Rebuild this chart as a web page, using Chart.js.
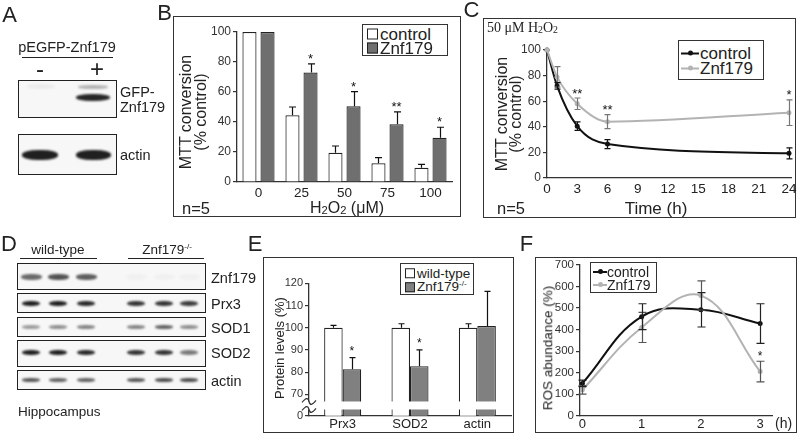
<!DOCTYPE html>
<html>
<head>
<meta charset="utf-8">
<title>Znf179 figure</title>
<script src="https://cdn.jsdelivr.net/npm/chart.js@4.4.1/dist/chart.umd.min.js"></script>
<style>
  body { margin: 0; background: #fff; }
  #fig { position: relative; width: 800px; height: 444px; overflow: hidden;
         font-family: "Liberation Sans", Arial, sans-serif; color: #222; }
  .layer { position: absolute; left: 0; top: 0; width: 800px; height: 444px; z-index: 2; }
  .frame { position: absolute; border: 1.5px solid #333; box-sizing: border-box; }
  .t { position: absolute; white-space: nowrap; line-height: 1; transform: translate(-50%, -50%); z-index: 3; }
  .tl { position: absolute; white-space: nowrap; line-height: 1; transform: translate(0, -50%); z-index: 3; }
  .legend { position: absolute; border: 1.5px solid #333; background: #fff; box-sizing: border-box; z-index: 3; }
  .blot { position: absolute; border: 1.5px solid #222; box-sizing: border-box; background: #f7f7f7; }
  .band { position: absolute; border-radius: 45%; filter: blur(1.2px); z-index: 1; }
  .rule { position: absolute; height: 1px; background: #222; }
  sub { font-size: 70%; vertical-align: -0.12em; }
  sup { font-size: 60%; vertical-align: 0.6em; }
</style>
</head>
<body>
<div id="fig">
  <canvas id="chartB" class="layer" width="800" height="444"></canvas>
  <canvas id="chartC" class="layer" width="800" height="444"></canvas>
  <canvas id="chartE" class="layer" width="800" height="444"></canvas>
  <canvas id="chartF" class="layer" width="800" height="444"></canvas>
</div>
<script>
// B: MTT conversion after 24h of H2O2 (uM)
const doseLabels = ['0', '25', '50', '75', '100'];
const doseControl = [100, 44.5, 19.5, 12.5, 9.5];
const doseControlErr = [0, 5.5, 4.5, 3.7, 2.3];
const doseZnf = [100, 73, 50.5, 38.5, 29.5];
const doseZnfErr = [0, 5.7, 9.7, 8.3, 7];
const doseZnfSig = ['', '*', '*', '**', '*'];

// C: MTT conversion over time at 50 uM H2O2
const timeHours = [0, 1, 3, 6, 24];
const timeControl = [100, 72, 40.5, 26.5, 19.3];
const timeControlErr = [0, 2.5, 3.3, 3.5, 4.3];
const timeZnf = [100, 79, 58, 44, 51];
const timeZnfErr = [0, 8, 4.5, 5.5, 10];
const timeZnfSig = ['', '', '**', '**', '*'];
const timeTicks = [0, 3, 6, 9, 12, 15, 18, 21, 24];

// E: protein levels in hippocampus
const proteinLabels = ['Prx3', 'SOD2', 'actin'];
const levelWT = [100, 100, 100];
const levelWTErr = [1.1, 1.8, 1.8];
const levelKO = [81.3, 82.7, 100.8];
const levelKOErr = [5.2, 7.3, 15.6];
const levelKOSig = ['*', '*', ''];
const levelTickValues = [60.4, 70, 80, 90, 100, 110, 120];
const levelTickLabels = ['0', '70', '80', '90', '100', '110', '120'];

// F: ROS abundance over time
const rosHours = [0, 1, 2, 3];
const rosControl = [150, 460, 492, 428];
const rosControlErr = [15, 60, 80, 92];
const rosZnf = [120, 410, 558, 205];
const rosZnfErr = [20, 70, 68, 48];
const rosZnfSig = ['', '', '', '*'];

const FONT = '"Liberation Sans", Arial, sans-serif';
const GRAY_BAR = '#6f6f6f';
const GRAY_LINE = '#b3b3b3';

Chart.defaults.font.family = FONT;
Chart.defaults.color = '#333';

const fig = document.getElementById('fig');

function el(cls, html, css) {
  const d = document.createElement('div');
  d.className = cls;
  if (html) d.innerHTML = html;
  Object.assign(d.style, css);
  fig.appendChild(d);
  return d;
}
function text(html, x, y, size, extra = {}) {
  return el('t', html, Object.assign({ left: x + 'px', top: y + 'px', fontSize: size + 'px' }, extra));
}
function textL(html, x, y, size, extra = {}) {
  return el('tl', html, Object.assign({ left: x + 'px', top: y + 'px', fontSize: size + 'px' }, extra));
}
function rect(cls, l, t, r, b) {
  return el(cls, '', { left: l + 'px', top: t + 'px', width: (r - l) + 'px', height: (b - t) + 'px' });
}
function band(cx, cy, w, h, o) {
  el('band', '', { left: (cx - w / 2) + 'px', top: (cy - h / 2) + 'px', width: w + 'px', height: h + 'px',
    background: 'rgba(20,20,20,' + o + ')' });
}
const ROT = { transform: 'translate(-50%,-50%) rotate(-90deg)' };

// panel letters
[['A', 9.5, 14.5], ['B', 164.5, 12.5], ['C', 471.5, 10], ['D', 9, 243.5], ['E', 255, 243.5], ['F', 526.5, 243.5]]
  .forEach(([s, x, y]) => text(s, x, y, 22));

// panel frames
rect('frame', 173, 16, 461, 217);
rect('frame', 483, 18, 796, 218);
rect('frame', 263, 257, 514, 433);
rect('frame', 535, 257, 797, 433);

// ---- A: western blot ----
text('pEGFP-Znf179', 67, 47, 14.5);
rect('rule', 22, 57, 113, 58);
text('-', 40, 69, 24);
text('+', 97, 69, 24);
rect('blot', 18, 80, 117, 118);
rect('blot', 18, 134, 117, 175);
band(41, 86, 28, 5, 0.05);
band(93, 87, 30, 4, 0.3);
band(93, 97.5, 34, 7, 0.92);
band(40, 155, 36, 10, 0.95);
band(93, 155, 35, 10, 0.95);
textL('GFP-', 120, 92, 14.5);
textL('Znf179', 120, 107, 14.5);
textL('actin', 120, 155, 14.5);

// ---- D: western blot ----
text('wild-type', 58, 250, 13.5);
rect('rule', 20, 258, 97, 259);
text('Znf179<sup>-/-</sup>', 167, 250, 13.5);
rect('rule', 128, 258, 204, 259);
const laneX = [31, 58, 86, 136, 164, 189];
const blotRows = [
  { name: 'Znf179', top: 263, bottom: 290, y: 277, h: 6, w: 21, o: [0.62, 0.72, 0.68, 0.03, 0.03, 0.03] },
  { name: 'Prx3', top: 293, bottom: 313, y: 303, h: 5, w: 18, o: [0.95, 0.95, 0.9, 0.85, 0.85, 0.82] },
  { name: 'SOD1', top: 317, bottom: 337, y: 327, h: 4, w: 18, o: [0.4, 0.45, 0.5, 0.5, 0.65, 0.45] },
  { name: 'SOD2', top: 340, bottom: 367, y: 352, h: 5, w: 18, o: [0.95, 0.95, 0.9, 0.85, 0.85, 0.55] },
  { name: 'actin', top: 370, bottom: 390, y: 380, h: 4, w: 18, o: [0.7, 0.65, 0.65, 0.7, 0.75, 0.75] },
];
blotRows.forEach(r => {
  rect('blot', 17, r.top, 206, r.bottom);
  laneX.forEach((x, i) => band(x, r.y, r.w, r.h, r.o[i]));
  textL(r.name, 211, r.y + 1, 14.5);
});
textL('Hippocampus', 18, 412, 13.5);

// ---- axis titles and notes ----
text('MTT conversion', 186, 112, 16, ROT);
text('(% control)', 201, 112, 16, ROT);
textL('n=5', 182, 208, 16.5);
text('H<sub>2</sub>O<sub>2</sub> (μM)', 347, 208, 16);

text('MTT conversion', 501.5, 114, 16, ROT);
text('(% control)', 516, 114, 16, ROT);
textL('n=5', 497, 208, 16.5);
text('Time (h)', 656, 208, 17);
textL('50 μM H<sub>2</sub>O<sub>2</sub>', 487, 28, 14, { fontFamily: '"Liberation Serif", "Times New Roman", serif' });

text('Protein levels (%)', 279, 348, 13, ROT);
text('ROS abundance (%)', 548, 348, 13.5, ROT);
textL('(h)', 775, 423, 14);

// ---- legends ----
function legend(l, t, w, h, rows, size) {
  const box = el('legend', '', { left: l + 'px', top: t + 'px', width: w + 'px', height: h + 'px' });
  rows.forEach(r => {
    const row = document.createElement('div');
    Object.assign(row.style, { position: 'absolute', left: '0', top: r.y + 'px', fontSize: size + 'px',
      lineHeight: '1', whiteSpace: 'nowrap', transform: 'translateY(-50%)' });
    let sw;
    if (r.fill) {
      sw = `<span style="position:absolute;left:${r.sx}px;top:50%;width:${r.ss}px;height:${r.ss}px;` +
        `margin-top:-${r.ss / 2}px;box-sizing:border-box;border:1.2px solid #222;background:${r.fill}"></span>`;
    } else {
      sw = `<span style="position:absolute;left:${r.sx}px;top:50%;width:${r.ss}px;height:2px;margin-top:-1px;background:${r.line}"></span>` +
        `<span style="position:absolute;left:${r.sx + r.ss / 2 - 2.5}px;top:50%;width:5px;height:5px;margin-top:-2.5px;border-radius:50%;background:${r.line}"></span>`;
    }
    row.innerHTML = sw + `<span style="position:relative;left:${r.tx}px">${r.label}</span>`;
    box.appendChild(row);
  });
}
legend(362, 24, 86, 32, [
  { y: 9, label: 'control', fill: '#fff', sx: 4, ss: 11, tx: 17 },
  { y: 23, label: 'Znf179', fill: GRAY_BAR, sx: 4, ss: 11, tx: 17 },
], 17);
legend(678, 40, 86, 40, [
  { y: 12, label: 'control', line: '#111', sx: 2, ss: 18, tx: 21 },
  { y: 27, label: 'Znf179', line: GRAY_LINE, sx: 2, ss: 18, tx: 21 },
], 17);
legend(400, 263, 74, 32, [
  { y: 9.5, label: 'wild-type', fill: '#fff', sx: 4, ss: 10, tx: 16 },
  { y: 23, label: 'Znf179<sup>-/-</sup>', fill: '#808080', sx: 4, ss: 10, tx: 16 },
], 13.5);
legend(590, 262, 67, 31, [
  { y: 8.5, label: 'control', line: '#111', sx: 2, ss: 14, tx: 16 },
  { y: 21.5, label: 'Znf179', line: GRAY_LINE, sx: 2, ss: 14, tx: 16 },
], 14);

// ---- chart helpers ----
const errorBars = {
  id: 'errorBars',
  afterDatasetsDraw(chart) {
    const ctx = chart.ctx;
    const yScale = chart.scales.y;
    chart.data.datasets.forEach((ds, i) => {
      if (!ds.errors) return;
      const meta = chart.getDatasetMeta(i);
      ctx.save();
      ctx.strokeStyle = ds.errColor || '#111';
      ctx.fillStyle = '#111';
      ctx.lineWidth = 1.2;
      meta.data.forEach((pt, j) => {
        const raw = ds.data[j];
        const v = typeof raw === 'object' ? raw.y : raw;
        const err = ds.errors[j];
        const x = Math.round(pt.x) + 0.5;
        const top = yScale.getPixelForValue(v + err);
        if (err > 0) {
          const bottom = ds.errUp ? pt.y : yScale.getPixelForValue(v - err);
          const c = ds.cap || 3;
          ctx.beginPath();
          ctx.moveTo(x, bottom); ctx.lineTo(x, top);
          ctx.moveTo(x - c, top); ctx.lineTo(x + c, top);
          if (!ds.errUp) { ctx.moveTo(x - c, bottom); ctx.lineTo(x + c, bottom); }
          ctx.stroke();
        }
        if (ds.sig && ds.sig[j]) {
          ctx.font = (ds.sigSize || 13) + 'px ' + FONT;
          ctx.textAlign = 'center';
          ctx.textBaseline = 'alphabetic';
          ctx.fillText(ds.sig[j], pt.x, top + (ds.sigOffset || 0));
        }
      });
      ctx.restore();
    });
  }
};

// white gap + squiggles for the broken y axis in E
const axisBreak = {
  id: 'axisBreak',
  afterDraw(chart, args, opts) {
    if (!opts.from) return;
    const { ctx, chartArea } = chart;
    const y = chart.scales.y;
    const y1 = y.getPixelForValue(opts.to), y2 = y.getPixelForValue(opts.from);
    ctx.save();
    ctx.fillStyle = '#fff';
    ctx.fillRect(chartArea.left - 8, y1, chartArea.right - chartArea.left + 8, y2 - y1);
    ctx.strokeStyle = '#333';
    ctx.lineWidth = 1.2;
    [y1, y2].forEach(yy => {
      const x0 = chartArea.left - 7;
      ctx.beginPath();
      ctx.moveTo(x0, yy + 1);
      ctx.bezierCurveTo(x0 + 4, yy - 4, x0 + 6, yy - 4, x0 + 7, yy);
      ctx.bezierCurveTo(x0 + 8, yy + 4, x0 + 10, yy + 4, x0 + 14, yy - 1);
      ctx.stroke();
    });
    ctx.restore();
  }
};

function yAxis(min, max, step, width, size) {
  return {
    min, max,
    ticks: { stepSize: step, color: '#333', font: { size }, padding: 2 },
    grid: { drawOnChartArea: false, drawTicks: true, tickLength: 4, color: '#333', lineWidth: 1.2 },
    border: { color: '#333', width: 1.3 },
    afterFit: s => { s.width = width; },
  };
}
function xAxis(size, pad) {
  return {
    ticks: { color: '#222', font: { size }, padding: pad, maxRotation: 0, autoSkip: false },
    grid: { display: false, drawTicks: false },
    border: { color: '#333', width: 1.3 },
    afterFit: s => { s.height = 20; },
  };
}
const baseOpts = (padding) => ({
  responsive: false,
  animation: false,
  devicePixelRatio: 1,
  events: [],
  layout: { padding },
  plugins: { legend: { display: false }, tooltip: { enabled: false } },
});

// ---- B ----
new Chart(document.getElementById('chartB'), {
  type: 'bar',
  data: {
    labels: doseLabels,
    datasets: [
      { data: doseControl, backgroundColor: '#fff', borderColor: '#222', borderWidth: 1.2,
        errors: doseControlErr, errUp: true, cap: 3.5 },
      { data: doseZnf, backgroundColor: GRAY_BAR, borderColor: '#222', borderWidth: 1.2,
        errors: doseZnfErr, errUp: true, cap: 3.5, sig: doseZnfSig, sigOffset: -1 },
    ],
  },
  options: Object.assign(baseOpts({ left: 197, top: 32, right: 348, bottom: 242 }), {
    datasets: { bar: { barPercentage: 0.78, categoryPercentage: 0.84 } },
    scales: { x: xAxis(13.5, 3), y: yAxis(0, 100, 20, 40, 12) },
  }),
  plugins: [errorBars],
});

// ---- C ----
const cX = Object.assign(xAxis(13.5, 3), { type: 'linear', min: 0, max: 24.2,
  afterBuildTicks: s => { s.ticks = timeTicks.map(v => ({ value: v })); } });
new Chart(document.getElementById('chartC'), {
  type: 'line',
  data: {
    datasets: [
      { data: timeHours.map((h, i) => ({ x: h, y: timeZnf[i] })), borderColor: GRAY_LINE, backgroundColor: GRAY_LINE,
        borderWidth: 2, pointRadius: 2.5, pointBorderWidth: 0, cubicInterpolationMode: 'monotone', clip: false,
        errors: timeZnfErr, errColor: '#777', cap: 3, sig: timeZnfSig, sigOffset: -0.5 },
      { data: timeHours.map((h, i) => ({ x: h, y: timeControl[i] })), borderColor: '#111', backgroundColor: '#111',
        borderWidth: 2, pointRadius: 2.5, pointBorderWidth: 0, cubicInterpolationMode: 'monotone', clip: false,
        errors: timeControlErr, errColor: '#111', cap: 3 },
    ],
  },
  options: Object.assign(baseOpts({ left: 507, top: 50, right: 9, bottom: 246 }), {
    scales: { x: cX, y: yAxis(0, 100, 20, 40, 12) },
  }),
  plugins: [errorBars],
});

// ---- E ----
const eY = yAxis(levelTickValues[0], 120, 10, 40, 11);
eY.afterBuildTicks = s => { s.ticks = levelTickValues.map(v => ({ value: v })); };
eY.ticks.callback = (v, i) => levelTickLabels[i];
new Chart(document.getElementById('chartE'), {
  type: 'bar',
  data: {
    labels: proteinLabels,
    datasets: [
      { data: levelWT, backgroundColor: '#fff', borderColor: '#222', borderWidth: 1.2,
        errors: levelWTErr, errUp: true, cap: 3 },
      { data: levelKO, backgroundColor: '#808080', borderColor: '#222', borderWidth: 1.2,
        errors: levelKOErr, errUp: true, cap: 3, sig: levelKOSig, sigSize: 12, sigOffset: -3 },
    ],
  },
  options: Object.assign(baseOpts({ left: 269, top: 283.3, right: 289, bottom: 8.3 }), {
    datasets: { bar: { barPercentage: 1, categoryPercentage: 0.55 } },
    scales: { x: xAxis(13, 1), y: eY },
    plugins: { legend: { display: false }, tooltip: { enabled: false }, axisBreak: { from: 63.2, to: 66.8 } },
  }),
  plugins: [errorBars, axisBreak],
});

// ---- F ----
const fX = Object.assign(xAxis(13, 1), { type: 'linear', min: -0.04, max: 3.2,
  afterBuildTicks: s => { s.ticks = rosHours.map(v => ({ value: v })); } });
new Chart(document.getElementById('chartF'), {
  type: 'line',
  data: {
    datasets: [
      { data: rosHours.map((h, i) => ({ x: h, y: rosZnf[i] })), borderColor: GRAY_LINE, backgroundColor: GRAY_LINE,
        borderWidth: 2, pointRadius: 2.5, pointBorderWidth: 0, tension: 0.4, clip: false,
        errors: rosZnfErr, errColor: '#555', cap: 4, sig: rosZnfSig, sigSize: 12, sigOffset: -1 },
      { data: rosHours.map((h, i) => ({ x: h, y: rosControl[i] })), borderColor: '#111', backgroundColor: '#111',
        borderWidth: 2, pointRadius: 2.5, pointBorderWidth: 0, tension: 0.4, clip: false,
        errors: rosControlErr, errColor: '#222', cap: 4 },
    ],
  },
  options: Object.assign(baseOpts({ left: 540, top: 265, right: 28, bottom: 8.3 }), {
    scales: { x: fX, y: yAxis(0, 700, 100, 40, 11.5) },
  }),
  plugins: [errorBars],
});
</script>
</body>
</html>
